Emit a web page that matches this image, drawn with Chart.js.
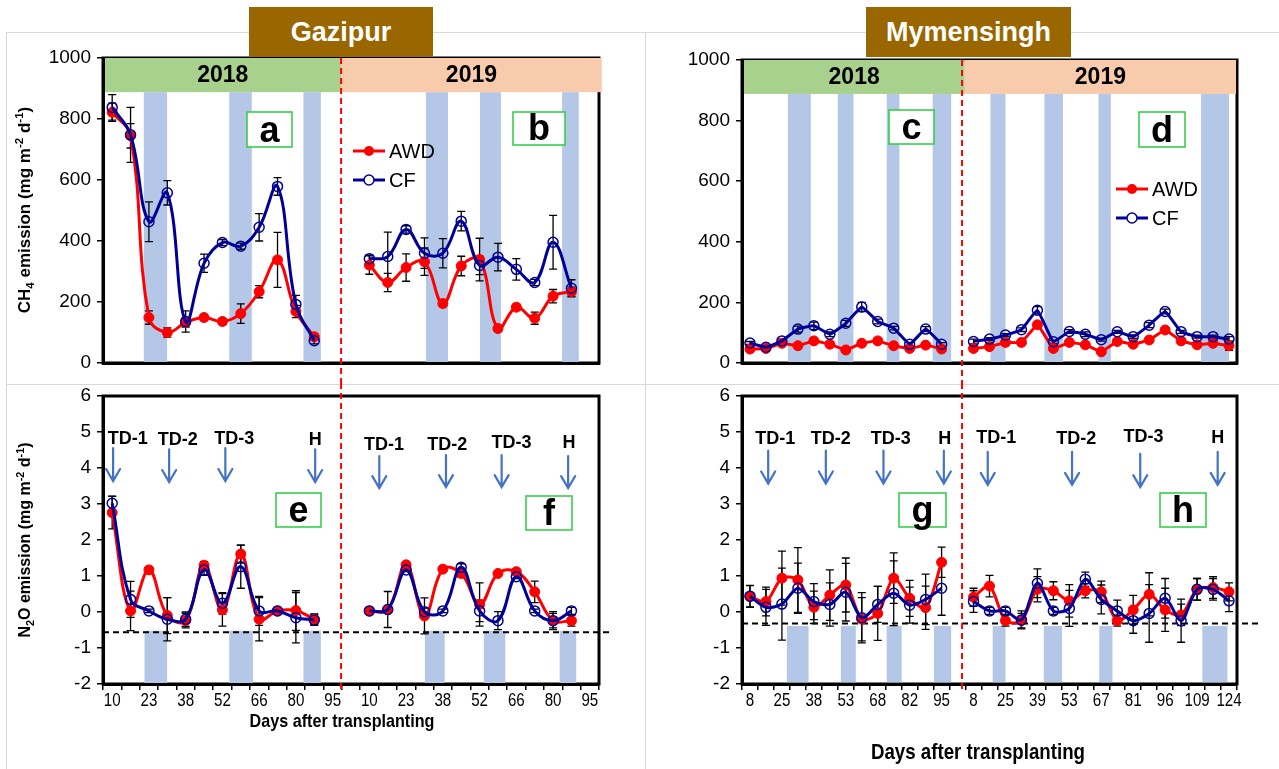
<!DOCTYPE html>
<html>
<head>
<meta charset="utf-8">
<script src="https://cdn.jsdelivr.net/npm/chart.js@4.4.1/dist/chart.umd.min.js"></script>
<style>
html,body{margin:0;padding:0;background:#fff;}
#wrap{position:relative;width:1279px;height:769px;overflow:hidden;background:#fff;font-family:'Liberation Sans',Arial,sans-serif;}
canvas{position:absolute;left:0;top:0;z-index:1;}
.frame{position:absolute;border:1px solid #d9d9d9;box-sizing:border-box;z-index:0;}
.site{position:absolute;background:#996600;color:#fff;font-weight:bold;font-size:27px;display:flex;align-items:center;justify-content:center;z-index:3;}
.ytitle{position:absolute;font-weight:bold;white-space:nowrap;transform:translate(-50%,-50%) rotate(-90deg);z-index:3;color:#000;}
.ytitle sub,.ytitle sup{font-size:0.68em;line-height:0;}
.xtitle{position:absolute;font-family:'Liberation Sans',Arial,sans-serif;font-weight:bold;white-space:nowrap;transform:translate(-50%,-50%) scaleX(0.85);z-index:3;color:#000;}
</style>
</head>
<body>
<div id="wrap">
  <div class="frame" style="left:6px;top:32px;width:640px;height:353px;"></div>
  <div class="frame" style="left:6px;top:384px;width:640px;height:400px;"></div>
  <div class="frame" style="left:645px;top:32px;width:640px;height:353px;"></div>
  <div class="frame" style="left:645px;top:384px;width:640px;height:400px;"></div>
  <canvas id="cA" width="1279" height="769"></canvas>
  <canvas id="cE" width="1279" height="769"></canvas>
  <canvas id="cC" width="1279" height="769"></canvas>
  <canvas id="cG" width="1279" height="769"></canvas>
  <div class="site" style="left:249px;top:7px;width:184px;height:50px;">Gazipur</div>
  <div class="site" style="left:866px;top:7px;width:205px;height:50px;">Mymensingh</div>
  <div class="ytitle" style="left:25px;top:210px;font-size:17px;">CH<sub>4</sub> emission (mg m<sup>-2</sup> d<sup>-1</sup>)</div>
  <div class="ytitle" style="left:25px;top:540px;font-size:16px;">N<sub>2</sub>O emission (mg m<sup>-2</sup> d<sup>-1</sup>)</div>
  <div class="xtitle" style="left:342px;top:721px;font-size:19px;">Days after transplanting</div>
  <div class="xtitle" style="left:978px;top:752px;font-size:22px;">Days after transplanting</div>
</div>
<script>
// ================= DATA =================
const gazTicks = ['10','23','38','52','66','80','95','10','23','38','52','66','80','95'];
const mymTicks = ['8','25','38','53','68','82','95','8','25','39','53','67','81','96','109','124'];

// Gazipur CH4 (mg m-2 d-1)
const gazCh4Awd2018 = [822,745,149,100,133,149,136,162,234,338,169,86];
const gazCh4Cf2018  = [838,748,463,558,136,327,395,383,445,579,192,73];
const gazCh4Awd2019 = [321,264,313,332,195,318,339,113,183,147,219,234];
const gazCh4Cf2019  = [342,349,438,360,360,465,320,347,307,264,396,245];
const gazCh4AwdErr2018 = [30,40,22,15,15,10,10,32,20,90,20,10];
const gazCh4CfErr2018  = [42,90,65,40,35,30,10,10,45,29,30,10];
const gazCh4AwdErr2019 = [30,30,45,45,10,32,70,10,10,20,22,15];
const gazCh4CfErr2019  = [12,80,12,50,48,32,30,45,35,10,88,28];

// Gazipur N2O (mg m-2 d-1)
const gazN2oAwd2018 = [2.76,0.03,1.17,-0.10,-0.24,1.30,0.06,1.61,-0.20,0.03,0.04,-0.20];
const gazN2oCf2018  = [3.02,0.35,0.03,-0.20,-0.20,1.17,0.24,1.26,0.03,0.03,-0.16,-0.22];
const gazN2oAwd2019 = [0.03,0.06,1.31,-0.11,1.19,1.07,0.21,1.07,1.12,0.56,-0.24,-0.24];
const gazN2oCf2019  = [0.03,0.07,1.17,0.01,0.03,1.24,0.03,-0.24,0.98,0.03,-0.24,0.03];
const gazN2oAwdErr2018 = [0.45,0.55,0.05,0.5,0.2,0.1,0.45,0.25,0.6,0.05,0.55,0.15];
const gazN2oCfErr2018  = [0.2,0.5,0.05,0.6,0.2,0.15,0.3,0.6,0.4,0.05,0.7,0.15];
const gazN2oAwdErr2019 = [0.03,0.05,0.05,0.5,0.05,0.1,0.6,0.05,0.05,0.3,0.25,0.15];
const gazN2oCfErr2019  = [0.03,0.5,0.05,0.1,0.05,0.1,0.3,0.25,0.05,0.05,0.2,0.1];

// Mymensingh CH4
const mymCh4Awd2018 = [46,48,65,57,73,62,43,65,73,57,48,59,46];
const mymCh4Cf2018  = [66,52,73,112,123,95,131,185,137,115,62,112,62];
const mymCh4Awd2019 = [48,54,68,68,126,48,68,60,37,71,62,76,109,73,60,65,57];
const mymCh4Cf2019  = [71,79,92,110,174,70,104,95,77,103,87,125,170,103,87,87,79];
const mymCh4AwdErr2018 = [5,5,5,5,5,5,5,5,5,5,5,5,5];
const mymCh4CfErr2018  = [5,5,6,10,12,8,10,15,8,6,6,8,5];
const mymCh4AwdErr2019 = [5,5,5,5,8,5,5,5,5,5,5,5,5,5,5,5,15];
const mymCh4CfErr2019  = [8,5,5,6,12,5,6,8,5,5,6,8,8,5,5,5,8];

// Mymensingh N2O
const mymN2oAwd2018 = [0.43,0.29,0.94,0.89,0.13,0.47,0.75,-0.20,-0.04,0.94,0.38,0.12,1.38];
const mymN2oCf2018  = [0.44,0.13,0.22,0.66,0.29,0.21,0.55,-0.16,0.21,0.52,0.19,0.35,0.66];
const mymN2oAwd2019 = [0.41,0.72,-0.24,-0.24,0.63,0.59,0.31,0.59,0.56,-0.24,0.06,0.49,0.06,-0.08,0.63,0.68,0.56];
const mymN2oCf2019  = [0.29,0.03,0.03,-0.22,0.80,0.03,0.10,0.91,0.35,0.03,-0.24,-0.04,0.38,-0.24,0.63,0.63,0.31];
const mymN2oAwdErr2018 = [0.3,0.4,0.75,0.9,0.45,0.7,0.75,0.6,0.75,0.7,0.5,0.6,0.42];
const mymN2oCfErr2018  = [0.3,0.5,1.0,0.7,0.5,0.6,0.8,0.7,0.5,0.9,0.5,0.7,0.75];
const mymN2oAwdErr2019 = [0.25,0.3,0.15,0.2,0.35,0.25,0.45,0.2,0.3,0.15,0.4,0.6,0.6,0.3,0.3,0.3,0.25];
const mymN2oCfErr2019  = [0.3,0.1,0.1,0.25,0.4,0.1,0.5,0.2,0.4,0.3,0.35,0.8,0.55,0.6,0.3,0.3,0.3];

// Drying periods (category index ranges)
const gazCh4Bands = [[1.72,2.99],[6.375,7.6],[10.41,11.36],[17.08,18.28],[20.02,21.16],[24.49,25.4]];
const gazN2oBands = [[1.76,2.99],[6.375,7.66],[10.41,11.36],[17.02,18.1],[20.23,21.4],[24.36,25.26]];
const mymCh4Bands = [[2.375,3.81],[5.5,6.48],[8.56,9.36],[11.44,12.6],[15.06,16.0],[18.44,19.6],[21.83,22.6],[28.25,30.0]];
const mymN2oBands = [[2.31,3.67],[5.69,6.625],[8.56,9.5],[11.52,12.6],[15.2,16.0],[18.4,19.54],[21.875,22.7],[28.33,29.9]];

// Event markers (category index for text / arrow, N2O value for text and arrow ends)
const gazEvents = [
  {t:'TD-1',tx:0.85,ty:4.8,ax:0.05,a1:4.55,a2:3.64},
  {t:'TD-2',tx:3.57,ty:4.78,ax:3.1,a1:4.52,a2:3.61},
  {t:'TD-3',tx:6.65,ty:4.8,ax:6.16,a1:4.55,a2:3.64},
  {t:'H',tx:11.05,ty:4.78,ax:11.05,a1:4.52,a2:3.61},
  {t:'TD-1',tx:14.8,ty:4.64,ax:14.54,a1:4.33,a2:3.44},
  {t:'TD-2',tx:18.24,ty:4.64,ax:18.17,a1:4.36,a2:3.47},
  {t:'TD-3',tx:21.74,ty:4.68,ax:21.2,a1:4.36,a2:3.47},
  {t:'H',tx:24.87,ty:4.68,ax:24.82,a1:4.33,a2:3.44}
];
const mymEvents = [
  {t:'TD-1',tx:1.58,ty:4.8,ax:1.14,a1:4.48,a2:3.57},
  {t:'TD-2',tx:5.06,ty:4.8,ax:4.75,a1:4.48,a2:3.57},
  {t:'TD-3',tx:8.81,ty:4.8,ax:8.36,a1:4.48,a2:3.57},
  {t:'H',tx:12.2,ty:4.8,ax:12.14,a1:4.48,a2:3.57},
  {t:'TD-1',tx:15.42,ty:4.82,ax:14.89,a1:4.45,a2:3.53},
  {t:'TD-2',tx:20.44,ty:4.8,ax:20.17,a1:4.45,a2:3.53},
  {t:'TD-3',tx:24.64,ty:4.86,ax:24.44,a1:4.39,a2:3.47},
  {t:'H',tx:29.29,ty:4.82,ax:29.29,a1:4.45,a2:3.53}
];

// ================= HELPERS =================
function interleave(ticks){ const out=[]; ticks.forEach((t,i)=>{ if(i>0) out.push(''); out.push(t); }); return out; }
function join(a, gap, b, total){ const arr=[...a]; for(let i=0;i<gap;i++) arr.push(null); arr.push(...b); while(arr.length<total) arr.push(null); return arr; }

const gazLabels = interleave(gazTicks);   // 27 categories
const mymLabels = interleave(mymTicks);   // 31 categories

const RED='#FF0000', NAVY='#000099', BAND='#B4C7E7', GREEN='#A9D18E', PEACH='#F8CBAD', BOXG='#2ECC40', ARROW='#4472C4';
const SANS="'Liberation Sans', Arial, sans-serif";
Chart.defaults.font.family = SANS;

function makePlugin(cfg){
  return {
    id:'panel_'+cfg.id,
    beforeDraw(chart){
      const ctx=chart.ctx, a=chart.chartArea, xs=chart.scales.x, ys=chart.scales.y;
      ctx.save();
      ctx.strokeStyle='#000'; ctx.lineWidth=3;
      ctx.strokeRect(a.left, a.top, a.right-a.left, a.bottom-a.top);
      ctx.fillStyle=BAND;
      const yb1=ys.getPixelForValue(cfg.bandTop), yb2=ys.getPixelForValue(cfg.bandBottom);
      cfg.bands.forEach(b=>{
        const x1=xs.getPixelForValue(b[0]), x2=xs.getPixelForValue(b[1]);
        ctx.fillRect(x1, yb1, x2-x1, yb2-yb1);
      });
      if(cfg.years){
        const y1=ys.getPixelForValue(1000), y2=ys.getPixelForValue(888);
        cfg.years.forEach(yr=>{
          const x1=Math.max(xs.getPixelForValue(yr.from), a.left+1.5), x2=xs.getPixelForValue(yr.to);
          ctx.fillStyle=yr.color; ctx.fillRect(x1, y1, x2-x1, y2-y1);
          ctx.fillStyle='#000'; ctx.font='bold 23px '+SANS; ctx.textAlign='center'; ctx.textBaseline='middle';
          ctx.fillText(yr.text, (x1+x2)/2, (y1+y2)/2+1);
        });
      }
      ctx.restore();
    },
    beforeDatasetsDraw(chart){
      const ctx=chart.ctx, a=chart.chartArea, xs=chart.scales.x, ys=chart.scales.y;
      ctx.save();
      if(cfg.dashY!==undefined){
        const y=ys.getPixelForValue(cfg.dashY);
        ctx.strokeStyle='#000'; ctx.lineWidth=2; ctx.setLineDash([6,4]);
        ctx.beginPath(); ctx.moveTo(a.left, y); ctx.lineTo(a.right+cfg.dashExt, y); ctx.stroke();
      }
      const xd=xs.getPixelForValue(cfg.divider);
      ctx.strokeStyle=RED; ctx.lineWidth=2; ctx.setLineDash([6,4]);
      ctx.beginPath();
      if(cfg.kind==='ch4'){ ctx.moveTo(xd, a.top); ctx.lineTo(xd, a.bottom+22); }
      else { ctx.moveTo(xd, a.top-13); ctx.lineTo(xd, a.bottom+6); }
      ctx.stroke();
      ctx.setLineDash([]);
      ctx.strokeStyle='#000'; ctx.lineWidth=1.3;
      [[1,cfg.awdErr],[0,cfg.cfErr]].forEach(([di,errs])=>{
        const meta=chart.getDatasetMeta(di), data=chart.data.datasets[di].data;
        data.forEach((v,i)=>{
          if(v===null||errs[i]===null||!meta.data[i]) return;
          const x=meta.data[i].x, y1=ys.getPixelForValue(v+errs[i]), y2=ys.getPixelForValue(v-errs[i]);
          ctx.beginPath();
          ctx.moveTo(x,y1); ctx.lineTo(x,y2);
          ctx.moveTo(x-4,y1); ctx.lineTo(x+4,y1);
          ctx.moveTo(x-4,y2); ctx.lineTo(x+4,y2);
          ctx.stroke();
        });
      });
      ctx.restore();
    },
    afterDraw(chart){
      const ctx=chart.ctx, a=chart.chartArea, xs=chart.scales.x, ys=chart.scales.y;
      ctx.save();
      // condensed category labels, placed at the scale's tick positions
      if(cfg.kind==='n2o'){
        ctx.fillStyle='#000'; ctx.font='18px '+SANS; ctx.textAlign='center'; ctx.textBaseline='middle';
        cfg.labels.forEach((lab,i)=>{
          if(!lab) return;
          const x=xs.getPixelForTick(i);
          ctx.save(); ctx.translate(x, a.bottom+17); ctx.scale(0.84,1); ctx.fillText(lab,0,0); ctx.restore();
        });
      }
      if(cfg.events){
        cfg.events.forEach(ev=>{
          ctx.fillStyle='#000'; ctx.font='bold 18px '+SANS; ctx.textAlign='center'; ctx.textBaseline='middle';
          ctx.fillText(ev.t, xs.getPixelForValue(ev.tx), ys.getPixelForValue(ev.ty));
          const x=xs.getPixelForValue(ev.ax), y1=ys.getPixelForValue(ev.a1), y2=ys.getPixelForValue(ev.a2);
          ctx.strokeStyle=ARROW; ctx.lineWidth=2.2; ctx.lineCap='round';
          ctx.beginPath(); ctx.moveTo(x,y1); ctx.lineTo(x,y2);
          ctx.moveTo(x-7,y2-12); ctx.lineTo(x,y2); ctx.lineTo(x+7,y2-12); ctx.stroke();
        });
      }
      cfg.letters.forEach(L=>{
        ctx.fillStyle='#fff'; ctx.fillRect(L.x,L.y,L.w,L.h);
        ctx.strokeStyle=BOXG; ctx.lineWidth=1.5; ctx.strokeRect(L.x,L.y,L.w,L.h);
        ctx.fillStyle='#000'; ctx.font='bold 36px '+SANS; ctx.textAlign='center'; ctx.textBaseline='alphabetic';
        ctx.fillText(L.t, L.x+L.w/2, L.y+L.h-5);
      });
      if(cfg.legend){
        const g=cfg.legend;
        [[RED,true,'AWD',g.y],[NAVY,false,'CF',g.y+g.gap]].forEach(([col,fill,txt,y])=>{
          ctx.strokeStyle=col; ctx.lineWidth=3; ctx.beginPath(); ctx.moveTo(g.x,y); ctx.lineTo(g.x+g.len,y); ctx.stroke();
          ctx.beginPath(); ctx.arc(g.x+g.len/2, y, 5, 0, Math.PI*2);
          if(fill){ ctx.fillStyle=col; ctx.fill(); }
          else { ctx.fillStyle='#fff'; ctx.fill(); ctx.lineWidth=1.5; ctx.stroke(); }
          ctx.fillStyle='#000'; ctx.font='20px '+SANS; ctx.textAlign='left'; ctx.textBaseline='middle';
          ctx.fillText(txt, g.x+g.len+4, y+1);
        });
      }
      ctx.restore();
    }
  };
}

function makeChart(cfg){
  const isN2o = cfg.kind==='n2o';
  const xH = isN2o ? 40 : 10;
  const xScale = isN2o ? {
      type:'category', offset:true,
      grid:{display:true, offset:true, drawOnChartArea:false, drawTicks:true, tickLength:6, color:'#000', lineWidth:1.5},
      ticks:{autoSkip:false, maxRotation:0, minRotation:0, color:'rgba(0,0,0,0)', font:{size:18}, padding:2},
      border:{display:true, color:'#000', width:3},
      afterFit:s=>{ s.height=xH; }
    } : {
      type:'category', offset:true,
      grid:{display:false}, ticks:{display:false},
      border:{display:true, color:'#000', width:3},
      afterFit:s=>{ s.height=xH; }
    };
  const ds = (label, data, col, filled, order) => ({
    label, data, order,
    borderColor:col, backgroundColor:col, borderWidth:3,
    pointRadius:5, pointHoverRadius:5, pointStyle:'circle',
    pointBackgroundColor: filled ? col : 'rgba(255,255,255,0)',
    pointBorderColor: col, pointBorderWidth: filled ? 1 : 1.5,
    tension: cfg.tension, spanGaps:false, fill:false
  });
  return new Chart(document.getElementById(cfg.id), {
    type:'line',
    data:{ labels:cfg.labels, datasets:[ ds('CF', cfg.cf, NAVY, false, 0), ds('AWD', cfg.awd, RED, true, 1) ] },
    options:{
      responsive:false, animation:false, devicePixelRatio:1, events:[],
      layout:{ padding:{ left:cfg.area.left-60, top:cfg.area.top, right:1279-cfg.area.right, bottom:769-cfg.area.bottom-xH } },
      plugins:{ legend:{display:false}, tooltip:{enabled:false} },
      scales:{
        x:xScale,
        y:{
          type:'linear', min:cfg.yMin, max:cfg.yMax,
          ticks:{stepSize:cfg.step, color:'#000', font:{size:19}, padding:6, callback:v=>String(v)},
          grid:{drawOnChartArea:false, drawTicks:true, tickLength:6, color:'#000', lineWidth:1.5},
          border:{display:true, color:'#000', width:3},
          afterFit:s=>{ s.width=60; }
        }
      }
    },
    plugins:[makePlugin(cfg)]
  });
}

// ================= PANELS =================
makeChart({
  id:'cA', kind:'ch4', labels:gazLabels,
  awd:join(gazCh4Awd2018,2,gazCh4Awd2019,27), cf:join(gazCh4Cf2018,2,gazCh4Cf2019,27),
  awdErr:join(gazCh4AwdErr2018,2,gazCh4AwdErr2019,27), cfErr:join(gazCh4CfErr2018,2,gazCh4CfErr2019,27),
  yMin:0, yMax:1000, step:200, area:{left:103,top:58,right:599,bottom:363},
  bands:gazCh4Bands, bandTop:888, bandBottom:0, divider:12.46, tension:0.4,
  years:[{from:-0.5,to:12.46,color:GREEN,text:'2018'},{from:12.46,to:26.65,color:PEACH,text:'2019'}],
  letters:[{t:'a',x:247,y:112,w:45,h:35},{t:'b',x:513,y:112,w:52,h:33}],
  legend:{x:353,y:151,len:32,gap:29}
});
makeChart({
  id:'cE', kind:'n2o', labels:gazLabels,
  awd:join(gazN2oAwd2018,2,gazN2oAwd2019,27), cf:join(gazN2oCf2018,2,gazN2oCf2019,27),
  awdErr:join(gazN2oAwdErr2018,2,gazN2oAwdErr2019,27), cfErr:join(gazN2oCfErr2018,2,gazN2oCfErr2019,27),
  yMin:-2, yMax:6, step:1, area:{left:103,top:396,right:599,bottom:684},
  bands:gazN2oBands, bandTop:-0.52, bandBottom:-2, dashY:-0.56, dashExt:10, divider:12.46, tension:0.4,
  events:gazEvents,
  letters:[{t:'e',x:276,y:493,w:45,h:34},{t:'f',x:526,y:496,w:46,h:34}]
});
makeChart({
  id:'cC', kind:'ch4', labels:mymLabels,
  awd:join(mymCh4Awd2018,1,mymCh4Awd2019,31), cf:join(mymCh4Cf2018,1,mymCh4Cf2019,31),
  awdErr:join(mymCh4AwdErr2018,1,mymCh4AwdErr2019,31), cfErr:join(mymCh4CfErr2018,1,mymCh4CfErr2019,31),
  yMin:0, yMax:1000, step:200, area:{left:742,top:60,right:1237,bottom:363},
  bands:mymCh4Bands, bandTop:888, bandBottom:0, divider:13.28, tension:0.1,
  years:[{from:-0.5,to:13.45,color:GREEN,text:'2018'},{from:13.45,to:30.44,color:PEACH,text:'2019'}],
  letters:[{t:'c',x:889,y:110,w:45,h:34},{t:'d',x:1139,y:112,w:46,h:35}],
  legend:{x:1116,y:189,len:32,gap:29}
});
makeChart({
  id:'cG', kind:'n2o', labels:mymLabels,
  awd:join(mymN2oAwd2018,1,mymN2oAwd2019,31), cf:join(mymN2oCf2018,1,mymN2oCf2019,31),
  awdErr:join(mymN2oAwdErr2018,1,mymN2oAwdErr2019,31), cfErr:join(mymN2oCfErr2018,1,mymN2oCfErr2019,31),
  yMin:-2, yMax:6, step:1, area:{left:742,top:396,right:1237,bottom:684},
  bands:mymN2oBands, bandTop:-0.39, bandBottom:-1.95, dashY:-0.32, dashExt:22, divider:13.28, tension:0.3,
  events:mymEvents,
  letters:[{t:'g',x:899,y:493,w:47,h:34},{t:'h',x:1160,y:493,w:46,h:34}]
});
</script>
</body>
</html>
